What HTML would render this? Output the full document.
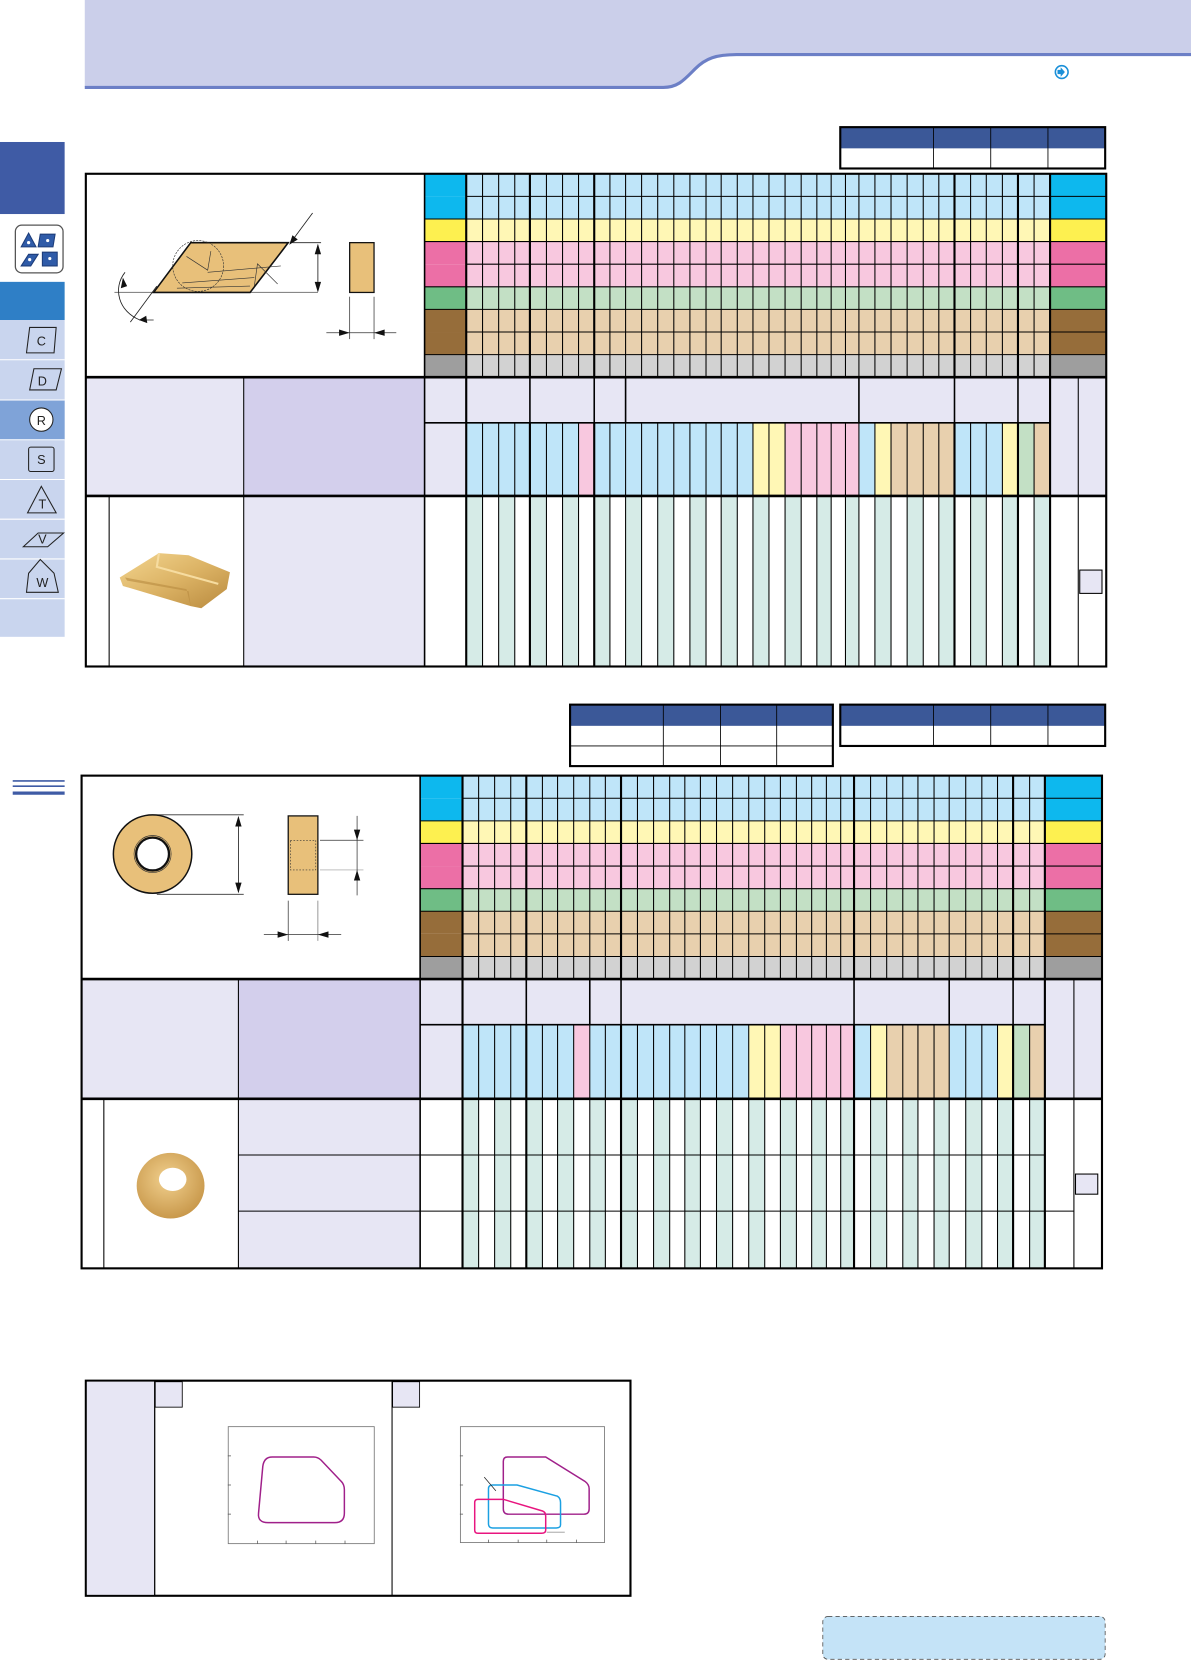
<!DOCTYPE html>
<html><head><meta charset="utf-8"><style>
html,body{margin:0;padding:0;background:#fff;width:1191px;height:1662px;overflow:hidden}
#w{width:1124px;height:1568px;transform:scale(1.05961);transform-origin:0 0;position:absolute;left:0;top:0}
svg text{font-family:"Liberation Sans",sans-serif}
</style></head><body><div id="w">
<svg id="s" width="1124" height="1568" viewBox="0 0 1124 1568" xmlns="http://www.w3.org/2000/svg">
<defs>
<linearGradient id="gold" x1="0" y1="0" x2="1" y2="1"><stop offset="0" stop-color="#f3d58f"/><stop offset="0.5" stop-color="#dcb365"/><stop offset="1" stop-color="#b98a3e"/></linearGradient>
<radialGradient id="rg" cx="0.45" cy="0.4" r="0.6"><stop offset="0" stop-color="#f1d08e"/><stop offset="1" stop-color="#c9994c"/></radialGradient>
</defs>
<!-- header -->
<path d="M80,0H1124V50H695C672,50 664,58 654,68C644,78 638,82 626,82H80Z" fill="#cbcfea"/>
<path d="M80,82.5H626C640,82.5 646,75 656,65C666,55 676,51.5 695,51.5H1124" fill="none" stroke="#6c7fc6" stroke-width="3"/>
<circle cx="1002" cy="68" r="6" fill="#fff" stroke="#1a8fd8" stroke-width="1.5"/><path d="M998,66h3v-2.5l4,4.5l-4,4.5v-2.5h-3z" fill="#1a8fd8"/>
<!-- sidebar -->
<rect x="0" y="134" width="61" height="68" fill="#3f5ba5"/>
<rect x="14.5" y="212.5" width="45" height="45" rx="6" fill="#fff" stroke="#555" stroke-width="1.2"/>
<path d="M20,233 L27,220 L34,233Z M38,221 L52,221 L50,233 L36,233Z M20,251 L27,240 L36,240 L29,251Z M40,238 L54,238 L54,251 L40,251Z" fill="#2f5ba8" stroke="#1d3d7a"/>
<circle cx="27" cy="229" r="1.5" fill="#fff"/><circle cx="45" cy="227" r="1.5" fill="#fff"/><circle cx="28" cy="245" r="1.5" fill="#fff"/><circle cx="47" cy="244" r="1.5" fill="#fff"/>
<rect x="0" y="266" width="61" height="36" fill="#2f7fc6"/>
<rect x="0" y="302" width="61" height="299" fill="#c9d5ee"/>
<rect x="0" y="378" width="61" height="37" fill="#7fa3d8"/>
<g stroke="#fff" stroke-width="1"><line x1="0" x2="61" y1="339.5" y2="339.5"/><line x1="0" x2="61" y1="377.5" y2="377.5"/><line x1="0" x2="61" y1="415" y2="415"/><line x1="0" x2="61" y1="452.5" y2="452.5"/><line x1="0" x2="61" y1="490" y2="490"/><line x1="0" x2="61" y1="527.5" y2="527.5"/><line x1="0" x2="61" y1="565" y2="565"/></g>
<g fill="none" stroke="#222" stroke-width="1">
<path d="M28,309L53,309L51,333L25,333Z"/>
<path d="M28,368L32,348L58,348L53,368Z"/>
<circle cx="39" cy="396" r="11" fill="#fff"/>
<rect x="27" y="422" width="24" height="23" rx="2"/>
<path d="M26,484L39,459L53,484Z"/>
<path d="M22,516L36,503L60,503L45,516Z"/>
<path d="M38,528L51,541L55,559L25,559L27,541Z"/>
</g>
<g font-size="12" fill="#222" text-anchor="middle"><text x="39" y="326">C</text><text x="40" y="364">D</text><text x="39" y="401">R</text><text x="39" y="438">S</text><text x="40" y="480">T</text><text x="40" y="513">V</text><text x="40" y="554">W</text></g>
<!-- marker -->
<g stroke="#3f5ba5"><line x1="12" x2="61" y1="737" y2="737" stroke-width="1.5"/><line x1="12" x2="61" y1="742" y2="742" stroke-width="1.5"/><line x1="12" x2="61" y1="748.5" y2="748.5" stroke-width="3"/></g>
<!-- small tables -->
<g id="small"></g>
<!-- drawing 1 -->
<g>
<line x1="108" y1="276" x2="300" y2="276" stroke="#888" stroke-width="1"/>
<path d="M180,229L272,229L266,237L236,276L145,276Z" fill="#e8c07a" stroke="#111" stroke-width="1.5"/>
<g stroke="#333" stroke-width="0.6" fill="none"><circle cx="187" cy="251" r="24" stroke-dasharray="2,1"/><path d="M176,242L196,255L199,237"/><path d="M196,257L265,251"/><path d="M172,267L240,262"/><path d="M240,270L243,249L262,268"/><path d="M167,272L236,270"/></g>
<line x1="275" y1="228" x2="295" y2="201" stroke="#222" stroke-width="0.8"/><path d="M273,231L276,222L281,226Z" fill="#111"/>
<line x1="276" y1="229" x2="303" y2="229" stroke="#222" stroke-width="0.8"/>
<line x1="300" y1="231" x2="300" y2="274" stroke="#222" stroke-width="0.8"/><path d="M300,230L297,240L303,240Z M300,276L297,266L303,266Z" fill="#111"/>
<rect x="330" y="229" width="23" height="47" fill="#e8c07a" stroke="#111" stroke-width="1.2"/>
<line x1="330" y1="280" x2="330" y2="320" stroke="#333" stroke-width="0.7"/><line x1="353" y1="280" x2="353" y2="320" stroke="#333" stroke-width="0.7"/>
<line x1="308" y1="314" x2="374" y2="314" stroke="#333" stroke-width="0.7"/><path d="M330,314L320,311L320,317Z M353,314L363,311L363,317Z" fill="#111"/>
<line x1="123" y1="304" x2="148" y2="270" stroke="#222" stroke-width="0.8"/>
<path d="M118,257C106,272 112,294 132,302L145,302" fill="none" stroke="#222" stroke-width="0.8"/><path d="M116,262L114,272L120,270Z M131,302L138,298L139,305Z" fill="#111"/>
</g>
<!-- drawing 2 -->
<g>
<line x1="148" y1="769" x2="230" y2="769" stroke="#333" stroke-width="0.8"/><line x1="148" y1="844" x2="230" y2="844" stroke="#333" stroke-width="0.8"/>
<circle cx="144" cy="806" r="37" fill="#e8c07a" stroke="#111" stroke-width="1.4"/>
<circle cx="144" cy="806" r="15.5" fill="#fff" stroke="#111" stroke-width="2.2"/>
<circle cx="144" cy="806" r="17.5" fill="none" stroke="#333" stroke-width="0.6"/>
<line x1="225" y1="772" x2="225" y2="842" stroke="#222" stroke-width="0.8"/><path d="M225,770L222,780L228,780Z M225,843L222,833L228,833Z" fill="#111"/>
<rect x="272" y="770" width="28" height="74" fill="#e8c07a" stroke="#111" stroke-width="1.2"/>
<rect x="274" y="793" width="24" height="28" fill="none" stroke="#333" stroke-width="0.6" stroke-dasharray="1.5,1.5"/>
<line x1="302" y1="793" x2="343" y2="793" stroke="#333" stroke-width="0.7"/><line x1="302" y1="821" x2="343" y2="821" stroke="#999" stroke-width="0.7"/>
<line x1="337" y1="770" x2="337" y2="845" stroke="#333" stroke-width="0.7"/><path d="M337,793L334,783L340,783Z M337,821L334,831L340,831Z" fill="#111"/>
<line x1="272" y1="850" x2="272" y2="888" stroke="#333" stroke-width="0.7"/><line x1="300" y1="850" x2="300" y2="888" stroke="#777" stroke-width="0.7"/>
<line x1="249" y1="882" x2="322" y2="882" stroke="#333" stroke-width="0.7"/><path d="M272,882L262,879L262,885Z M300,882L310,879L310,885Z" fill="#111"/>
</g>
<g id="tables"></g>
<!-- photos -->
<path d="M113,545L150,522L178,524L217,540L214,556L190,574L180,572L116,553Z" fill="url(#gold)"/>
<path d="M118,545L176,556L180,572L178,558L120,548Z" fill="#b88a40" opacity="0.6"/>
<path d="M150,522L148,535L206,551" fill="none" stroke="#f6dca0" stroke-width="2"/>
<ellipse cx="161" cy="1119" rx="32" ry="31" fill="url(#rg)"/>
<ellipse cx="163" cy="1113" rx="13" ry="11" fill="#fff"/>
<!-- bottom chart -->
<rect x="81" y="1303" width="514" height="203" fill="#fff" stroke="#000" stroke-width="2"/>
<rect x="82" y="1304" width="64" height="201" fill="#e7e6f4"/>
<line x1="146" y1="1303" x2="146" y2="1506" stroke="#000" stroke-width="1.2"/>
<line x1="370" y1="1303" x2="370" y2="1506" stroke="#000" stroke-width="1"/>
<rect x="146.5" y="1304" width="25.5" height="24" fill="#e7e6f4" stroke="#000" stroke-width="0.8"/>
<rect x="370.5" y="1304" width="25.5" height="24" fill="#e7e6f4" stroke="#000" stroke-width="0.8"/>
<rect x="215.4" y="1346.4" width="137.8" height="110.4" fill="none" stroke="#777" stroke-width="0.8"/>
<g stroke="#555" stroke-width="0.7"><path d="M215,1374h3M215,1401.5h3M215,1429h3M243,1457v-3M270,1457v-3M298,1457v-3M325.6,1457v-3"/></g>
<path d="M257,1375L296,1375Q300,1375 303,1378L322,1398Q325,1401 325,1406L325,1428Q325,1437 316,1437L253,1437Q243,1437 244,1428L248,1384Q249,1375 257,1375Z" fill="none" stroke="#a0208a" stroke-width="1.4"/>
<rect x="434.5" y="1346.4" width="136" height="109.4" fill="none" stroke="#777" stroke-width="0.8"/>
<g stroke="#555" stroke-width="0.7"><path d="M434,1374h3M434,1401.5h3M434,1429h3M461,1456v-3M489,1456v-3M516,1456v-3M544,1456v-3"/></g>
<path d="M479,1375L515,1375L552,1398Q556,1401 556,1405L556,1424Q556,1429 551,1429L480,1429Q475,1429 475,1424L475,1379Q475,1375 479,1375Z" fill="none" stroke="#a0208a" stroke-width="1.4"/>
<path d="M465,1401.5L488,1401.5L526,1412Q529,1414 529,1418L529,1439Q529,1442 525,1442L465,1442Q461,1442 461,1438L461,1405Q461,1401.5 465,1401.5Z" fill="none" stroke="#1ba0e2" stroke-width="1.4"/>
<path d="M451,1415L475,1415L512,1426Q515,1427 515,1431L515,1444Q515,1447 511,1447L451,1447Q448,1447 448,1444L448,1418Q448,1415 451,1415Z" fill="none" stroke="#e8157f" stroke-width="1.4"/>
<line x1="516" y1="1446" x2="533" y2="1446" stroke="#999" stroke-width="0.8"/>
<line x1="457" y1="1394" x2="468" y2="1407" stroke="#222" stroke-width="0.7"/>
<rect x="776.5" y="1525.5" width="266.5" height="40.5" rx="5" fill="#c4e3f7" stroke="#555" stroke-width="0.8" stroke-dasharray="4,3"/>
</svg></div>
<script>
(function(){
var o=[];
function R(x,y,w,h,f){o.push('<rect x="'+x+'" y="'+y+'" width="'+w+'" height="'+h+'" fill="'+f+'"/>');}
function L(x1,y1,x2,y2,w){o.push('<line x1="'+x1+'" y1="'+y1+'" x2="'+x2+'" y2="'+y2+'" stroke="#000" stroke-width="'+(w||1)+'"/>');}
var light=['#bfe5f9','#bfe5f9','#fff7b5','#f8c8df','#f8c8df','#c3e0c5','#e8d0ae','#e8d0ae','#d2d2d2'];
var dark=['#0db8ee','#0db8ee','#fdf050','#ec6fa6','#ec6fa6','#6fbd85','#966d3a','#966d3a','#9e9e9e'];
var B='#bfe5f9',Y='#fff7b5',P='#f8c8df',T='#e8d0ae',G='#c3e0c5';
var sub=[B,B,B,B,B,B,B,P,B,B,B,B,B,B,B,B,B,B,Y,Y,P,P,P,P,P,B,Y,T,T,T,T,B,B,B,Y,G,T];
function table(t){
 var c=t.cols,n=c.length-1,lastC=c[n];
 var rh=(t.hdr-t.top)/9;
 // color rows
 for(var i=0;i<9;i++){var y=t.top+i*rh;R(c[0],y,lastC-c[0],rh,light[i]);R(t.lab,y,c[0]-t.lab,rh,dark[i]);R(lastC,y,t.R-lastC,rh,dark[i]);}
 // header
 R(t.L,t.hdr,t.split-t.L,t.sh-t.hdr,'#e7e6f4');R(t.split,t.hdr,t.lab-t.split,t.sh-t.hdr,'#d3cfec');
 R(t.lab,t.hdr,t.R-t.lab,t.sh-t.hdr,'#e7e6f4');
 var mid=t.mid;
 for(var j=0;j<n;j++){R(c[j],mid,c[j+1]-c[j],t.sh-mid,sub[j]);}
 // body
 R(t.split,t.sh,t.lab-t.split,t.B-t.sh,'#e7e6f4');
 for(var j=0;j<n;j+=2){R(c[j],t.sh,c[j+1]-c[j],t.B-t.sh,'#d6ebe7');}
 // grid lines rows
 for(var i=1;i<9;i++){var y=t.top+i*rh;var x0=(i==2||i==5||i==3||i==6||i==8)?t.lab:c[0];L(x0,y,t.R,y,1);}
 // vertical lines color area
 for(var j=1;j<n;j++){var th=t.thick.indexOf(j)>=0;L(c[j],t.top,c[j],t.hdr,th?2:1);L(c[j],mid,c[j],t.B,th?2:1);}
 L(c[0],t.top,c[0],t.B,2);L(lastC,t.top,lastC,t.B,2);
 L(t.lab,t.top,t.lab,t.B,1.5);
 // group lines top subheader
 t.grp.forEach(function(x){L(x,t.hdr,x,mid,1.5);});
 L(t.lab,mid,lastC,mid,1.5);
 L(t.ext,t.hdr,t.ext,t.B,1);
 L(t.split,t.hdr,t.split,t.B,1);
 L(t.nar,t.sh,t.nar,t.B,1);
 L(t.L,t.hdr,t.R,t.hdr,2.5);L(t.L,t.sh,t.R,t.sh,2.5);
 if(t.subs)t.subs.forEach(function(y){L(t.split,y,lastC,y,1);});
 if(t.sub3)L(lastC,t.sub3,t.ext,t.sub3,1);
 o.push('<rect x="'+t.L+'" y="'+t.top+'" width="'+(t.R-t.L)+'" height="'+(t.B-t.top)+'" fill="none" stroke="#000" stroke-width="2"/>');
 o.push('<rect x="'+t.sq[0]+'" y="'+t.sq[1]+'" width="'+t.sq[2]+'" height="'+t.sq[3]+'" fill="#e7e6f4" stroke="#000" stroke-width="1"/>');
}
table({L:81,R:1044,top:164,hdr:356,mid:399,sh:468,B:629,lab:400.7,split:230,nar:103,ext:1017.6,
 cols:[440,455.4,470.6,485.8,500.1,515.7,530.9,546,560.8,575.6,590.4,605.5,620.7,635.9,651.1,666.3,680.6,695.8,710.6,725.7,740.9,756.1,770.9,784.4,797.9,810.6,825.7,840.9,856.1,871.3,886,900.8,916,930.8,946,960.7,975.9,991],
 thick:[4,8,31,35],grp:[440,500.1,560.8,590.4,810.6,900.8,960.7],sq:[1019,538,21,22]});
table({L:77,R:1040,top:732,hdr:924,mid:967,sh:1037,B:1197,lab:396.5,split:225,nar:98,ext:1013.5,
 cols:[436.5,451.7,466.8,482,496.7,511.9,526.2,541.4,556.6,571.3,586.1,601.6,616.8,632,646.3,661,676.2,691.4,706.6,721.7,736.5,751.6,766,779.9,793.4,806,821.6,836.8,852,866.3,881.5,895.8,911.4,926.6,941.4,956.1,971.7,986.1],
 thick:[4,10,25,35],grp:[436.5,496.7,556.6,586.1,806,895.8,956.1],sq:[1015,1108,21,19],subs:[1090,1143],sub3:1143});
document.getElementById('tables').innerHTML=o.join('');
// small tables
var s=[];
function st(x,y,xs,rows){var w=xs[xs.length-1]-x;s.push('<rect x="'+x+'" y="'+y+'" width="'+w+'" height="20" fill="#3b5898"/>');
 var h=20+rows*19;s.push('<rect x="'+x+'" y="'+y+'" width="'+w+'" height="'+h+'" fill="none" stroke="#000" stroke-width="2"/>');
 xs.slice(0,-1).forEach(function(c){s.push('<line x1="'+c+'" y1="'+y+'" x2="'+c+'" y2="'+(y+h)+'" stroke="#000" stroke-width="0.8"/>');});
 for(var r=1;r<rows;r++){var yy=y+20+r*19;s.push('<line x1="'+x+'" y1="'+yy+'" x2="'+(x+w)+'" y2="'+yy+'" stroke="#000" stroke-width="0.8"/>');}}
st(793,120,[881,935,989,1043],1);
st(538,665,[626,680,733,786],2);
st(793,665,[881,935,989,1043],1);
document.getElementById('small').innerHTML=s.join('');
})();
</script>
</body></html>
